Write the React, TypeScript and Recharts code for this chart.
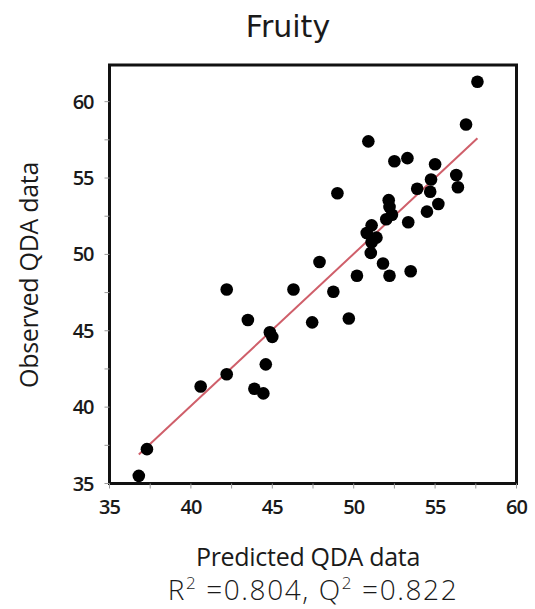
import React from 'react';
import {
  ScatterChart,
  Scatter,
  XAxis,
  YAxis,
  ReferenceArea,
} from 'recharts';

const predicted = [
  57.6, 56.9, 50.9, 52.5, 53.3, 55.0, 56.3, 54.75, 56.4, 53.9, 54.7, 49.0, 52.15, 55.2, 52.2,
  54.5, 52.35, 52.0, 53.35, 51.1, 50.8, 51.4, 51.1, 51.05, 47.9, 51.8, 53.5, 50.2, 52.2,
  46.3, 42.2, 48.75, 43.5, 47.45, 49.7, 44.85, 45.0, 44.6, 42.2, 40.6, 43.9, 44.45, 37.3, 36.8,
];
const observed = [
  61.3, 58.5, 57.4, 56.1, 56.3, 55.9, 55.2, 54.9, 54.4, 54.3, 54.1, 54.0, 53.55, 53.3, 53.1,
  52.8, 52.6, 52.3, 52.1, 51.9, 51.4, 51.1, 50.8, 50.1, 49.5, 49.4, 48.9, 48.6, 48.6,
  47.7, 47.7, 47.55, 45.7, 45.55, 45.8, 44.9, 44.6, 42.8, 42.15, 41.35, 41.2, 40.9, 37.25, 35.5,
];

// fitted line end points
const fitX = [36.8, 57.6];
const fitY = [36.9, 57.6];

const xTicks = [35, 37.5, 40, 42.5, 45, 47.5, 50, 52.5, 55, 57.5, 60];
const yTicks = [35, 37.5, 40, 42.5, 45, 47.5, 50, 52.5, 55, 57.5, 60];

const points = predicted.map((x, i) => ({ x, y: observed[i] }));
const fitLine = fitX.map((x, i) => ({ x, y: fitY[i] }));

const majorOnly = (v: number) => (v % 5 === 0 ? String(v) : '');

const tickStyle = { fontFamily: 'Open Sans', fontSize: 20, fontWeight: 600, letterSpacing: -1, fill: '#1a1a1a' };

const Dot = (props: any) => <circle cx={props.cx} cy={props.cy} r={6.3} fill="#000" />;
const NoDot = () => null;

export default function App() {
  return (
    <div style={{ position: 'absolute', left: 0, top: 0, width: 535, height: 609, background: '#fff' }}>
      <ScatterChart
        width={535}
        height={609}
        margin={{ top: 65, right: 18.5, bottom: 95.5, left: 59.5 }}
      >
        <XAxis
          type="number"
          dataKey="x"
          domain={[35, 60]}
          ticks={xTicks}
          tickFormatter={majorOnly}
          allowDataOverflow
          axisLine={false}
          tickLine={{ stroke: '#999' }}
          tickSize={5}
          tickMargin={11}
          height={30}
          tick={tickStyle}
          interval={0}
        />
        <YAxis
          type="number"
          dataKey="y"
          domain={[35, 62.4]}
          ticks={yTicks}
          tickFormatter={majorOnly}
          allowDataOverflow
          axisLine={false}
          tickLine={{ stroke: '#999' }}
          tickSize={5}
          tickMargin={11}
          width={50}
          tick={tickStyle}
          interval={0}
        />
        <ReferenceArea
          x1={35}
          x2={60}
          y1={35}
          y2={62.4}
          fill="none"
          stroke="#111"
          strokeWidth={3}
          ifOverflow="visible"
        />
        <Scatter
          data={fitLine}
          line={{ stroke: '#cf5f6a', strokeWidth: 2 }}
          shape={NoDot}
          isAnimationActive={false}
        />
        <Scatter data={points} shape={Dot} isAnimationActive={false} />
      </ScatterChart>
      <svg
        width={535}
        height={609}
        style={{ position: 'absolute', left: 0, top: 0, pointerEvents: 'none' }}
      >
        <text x={288} y={37} textAnchor="middle" fontFamily="DejaVu Sans" fontSize={30} fill="#1a1a1a">
          Fruity
        </text>
        <text
          x={38}
          y={275}
          textAnchor="middle"
          transform="rotate(-90 38 275)"
          fontFamily="Open Sans"
          fontSize={25}
          letterSpacing={-0.3}
          fill="#1a1a1a"
        >
          Observed QDA data
        </text>
        <text x={308} y={566} textAnchor="middle" fontFamily="Open Sans" fontSize={25} letterSpacing={-0.3} fill="#1a1a1a">
          Predicted QDA data
        </text>
        <text
          x={313}
          y={600}
          textAnchor="middle"
          fontFamily="Open Sans"
          fontWeight={300}
          fontSize={28}
          letterSpacing={1.6}
          fill="#1a1a1a"
        >
          R<tspan dy={-11} fontSize={17}>2</tspan>
          <tspan dy={11}> =0.804, Q</tspan>
          <tspan dy={-11} fontSize={17}>2</tspan>
          <tspan dy={11}> =0.822</tspan>
        </text>
      </svg>
    </div>
  );
}
